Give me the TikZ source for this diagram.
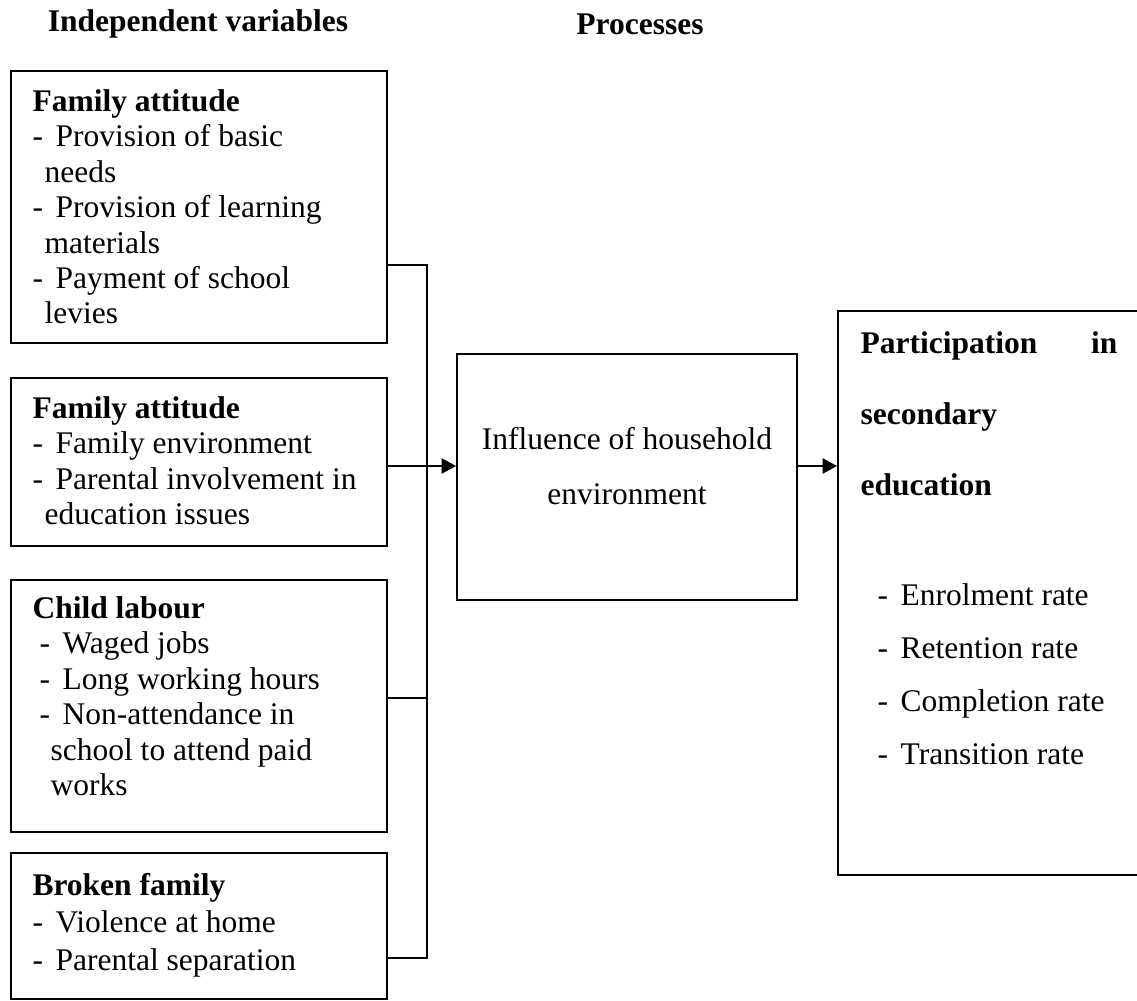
\documentclass[tikz,border=0pt]{standalone}
\usepackage{fontspec}
\setmainfont{Liberation Serif}
\usetikzlibrary{arrows.meta}
\usetikzlibrary{fit,positioning}

\begin{document}
\begin{tikzpicture}[x=0.381pt,y=-0.381pt,
    every node/.style={font=\fontsize{12pt}{13.5pt}\selectfont},
    frame/.style={draw,line width=0.75pt,inner sep=0pt},
    boxtext/.style={anchor=north west,inner sep=0pt,align=left},
    head/.style={font=\fontsize{12pt}{13.5pt}\selectfont\bfseries},
    >={Triangle[length=5.5pt,width=5.8pt]}]
  \useasboundingbox (0,0) rectangle (1137,1000);

  % column headings
  \node[head] (hind) at (198,24) {Independent variables};
  \node[head] (hproc) at (640,24) {Processes};

  % the four groups of variables
  \node[frame,fit={(11,71) (387,343)}]   (fam1) {};
  \node[frame,fit={(11,378) (387,546)}]  (fam2) {};
  \node[frame,fit={(11,580) (387,832)}]  (lab)  {};
  \node[frame,fit={(11,853) (387,999)}]  (brk)  {};
  \node[boxtext] (tfam1) at (32,89) {\textbf{Family attitude}\\
      -\hspace{4.8pt}Provision of basic\\ \hspace*{4.6pt}needs\\
      -\hspace{4.8pt}Provision of learning\\ \hspace*{4.6pt}materials\\
      -\hspace{4.8pt}Payment of school\\ \hspace*{4.6pt}levies};
  \node[boxtext] (tfam2) at (32,396) {\textbf{Family attitude}\\
      -\hspace{4.8pt}Family environment\\
      -\hspace{4.8pt}Parental involvement in\\ \hspace*{4.6pt}education issues};
  \node[boxtext] (tlab) at (32,596) {\textbf{Child labour}\\
      \hspace*{2.7pt}-\hspace{4.8pt}Waged jobs\\
      \hspace*{2.7pt}-\hspace{4.8pt}Long working hours\\
      \hspace*{2.7pt}-\hspace{4.8pt}Non-attendance in\\
      \hspace*{6.9pt}school to attend paid\\ \hspace*{6.9pt}works};
  \node[boxtext,font=\fontsize{12pt}{14.2pt}\selectfont] (tbrk) at (32,873)
      {\textbf{Broken family}\\
      -\hspace{4.8pt}Violence at home\\
      -\hspace{4.8pt}Parental separation};

  % process and outcome
  \node[frame,fit={(457,354) (797,600)}] (hh) {};
  \node[align=center,inner sep=0pt,font=\fontsize{12pt}{21pt}\selectfont]
      (thh) at (627,466) {Influence of household\\environment};
  \node[frame,fit={(838,311) (1150,875)}] (part) {};
  \node[boxtext,font=\fontsize{12pt}{13pt}\selectfont] (tpart) at (860,331) {%
      \textbf{\makebox[97.9pt][l]{Participation\hfill in}}\\[14pt]
      \textbf{secondary}\\[14pt]
      \textbf{education}\\[28.9pt]
      \hspace*{6.5pt}-\hspace{4.8pt}Enrolment rate\\[7.2pt]
      \hspace*{6.5pt}-\hspace{4.8pt}Retention rate\\[7.2pt]
      \hspace*{6.5pt}-\hspace{4.8pt}Completion rate\\[7.2pt]
      \hspace*{6.5pt}-\hspace{4.8pt}Transition rate};

  % joining line
  \coordinate (b1)  at (427,265);
  \coordinate (b3)  at (427,698);
  \coordinate (b4)  at (427,958);
  \coordinate (mid) at (427,466);

  \draw[line width=0.75pt] (fam1.east |- b1) -- (b1) -- (b4) -- (brk.east |- b4);
  \draw[line width=0.75pt] (lab.east |- b3) -- (b3);
  \draw[->,line width=0.75pt] (fam2.east |- mid) -- (hh.west |- mid);
  \draw[->,line width=0.75pt] (hh.east |- mid) -- (part.west |- mid);
\end{tikzpicture}
\end{document}
